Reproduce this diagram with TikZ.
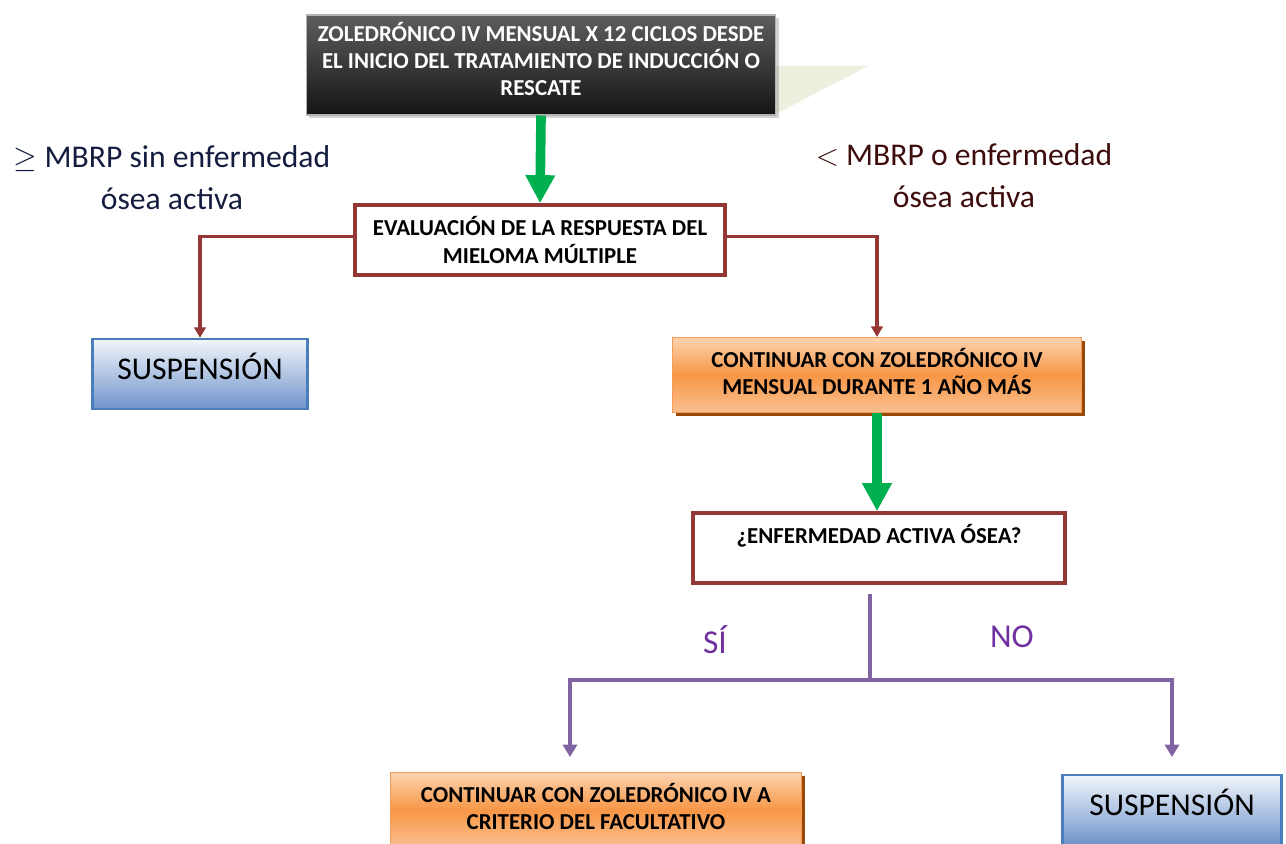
\documentclass[tikz,border=0pt]{standalone}
\usepackage{fontspec}
\setmainfont{Carlito}
\usetikzlibrary{arrows.meta,shadows}

\definecolor{darkred}{HTML}{953735}
\definecolor{arrowgreen}{HTML}{00B050}
\definecolor{violetline}{HTML}{8064A2}
\definecolor{violettext}{HTML}{7030A0}
\definecolor{navytext}{HTML}{141D3F}
\definecolor{maroontext}{HTML}{3D0C0C}
\definecolor{orangetop}{HTML}{FCD3B0}
\definecolor{orangemid}{HTML}{F79646}
\definecolor{orangebot}{HTML}{FAC090}
\definecolor{orangeedge}{HTML}{F59D56}
\definecolor{orangeshadow}{HTML}{984807}
\definecolor{bluetop}{HTML}{F2F6FB}
\definecolor{bluebot}{HTML}{6F93CB}
\definecolor{blueedge}{HTML}{4A7EBB}
\definecolor{darktop}{HTML}{5E5E5E}
\definecolor{darkbot}{HTML}{141414}
\definecolor{lightgreen}{HTML}{EBF1DE}

\begin{document}
\begin{tikzpicture}[
        x=0.02cm, y=-0.02cm,
        every node/.style={
            align=center,
            inner sep=2pt
        },
        boxtext/.style={font=\bfseries\fontsize{13}{15.5}\selectfont},
        darkbox/.style={
            boxtext, text=white, text depth=7pt,
            draw=gray!60, line width=0.6pt,
            top color=darktop, bottom color=darkbot,
            minimum width=9.4cm, minimum height=2cm,
            drop shadow={shadow xshift=1.5pt, shadow yshift=-1.5pt, opacity=0.35}
        },
        whitebox/.style={
            boxtext, fill=white,
            draw=darkred, line width=2pt,
            minimum height=1.4cm,
            drop shadow={shadow xshift=1.2pt, shadow yshift=-1.2pt, opacity=0.25}
        },
        orangebox/.style={
            boxtext, text depth=4pt,
            draw=orangeedge, line width=0.6pt,
            top color=orangetop, bottom color=orangebot, middle color=orangemid,
            minimum width=8.2cm, minimum height=1.5cm,
            drop shadow={shadow xshift=2pt, shadow yshift=-2pt, fill=orangeshadow, opacity=1}
        },
        bluebox/.style={
            font=\fontsize{18}{20}\selectfont, text depth=9pt,
            draw=blueedge, line width=1.3pt,
            top color=bluetop, bottom color=bluebot,
            minimum width=4.3cm, minimum height=1.4cm
        },
        greenarrow/.style={
            draw=arrowgreen, line width=5.5pt,
            -{Triangle[length=16pt,width=16pt]}
        },
        redline/.style={
            draw=darkred, line width=2.2pt,
            -{Triangle[length=6pt,width=6.5pt]}
        },
        violetarrow/.style={
            draw=violetline, line width=2.2pt,
            -{Triangle[length=7pt,width=8pt]}
        },
        branchlabel/.style={font=\fontsize{18}{24}\selectfont},
        answer/.style={font=\fontsize{19}{22}\selectfont, text=violettext}
    ]
        \useasboundingbox (0,0) rectangle (1286,844);
        \clip (0,0) rectangle (1286,844);

        % Start
        \fill[lightgreen] (772,66) -- (868,66) -- (772,116) -- cycle;
        \node[darkbox] (start) at (541,65) {ZOLEDRÓNICO IV MENSUAL X 12 CICLOS DESDE\\EL INICIO DEL TRATAMIENTO DE INDUCCIÓN O\\RESCATE};
        \node[whitebox, minimum width=7.4cm] (eval) at (540,240) {EVALUACIÓN DE LA RESPUESTA DEL\\MIELOMA MÚLTIPLE};

        % Response labels
        \node[branchlabel, text=navytext] (good) at (172,178) {$\geq$ MBRP sin enfermedad\\ósea activa};
        \node[branchlabel, text=maroontext] (poor) at (964,176) {$<$ MBRP o enfermedad\\ósea activa};

        % Outcomes of the evaluation
        \node[bluebox] (stopA) at (200,374) {SUSPENSIÓN};
        \node[orangebox] (goon) at (877,375) {CONTINUAR CON ZOLEDRÓNICO IV\\MENSUAL DURANTE 1 AÑO MÁS};
        \node[whitebox, minimum width=7.44cm] (bone) at (879,548) {¿ENFERMEDAD ACTIVA ÓSEA?\\\mbox{}};

        % Outcomes of the bone question
        \node[orangebox, minimum width=8.24cm] (goonB) at (596,810) {CONTINUAR CON ZOLEDRÓNICO IV A\\CRITERIO DEL FACULTATIVO};
        \node[bluebox, minimum width=4.38cm] (stopB) at (1172,810) {SUSPENSIÓN};
        \node[answer] (yes) at (715,640) {SÍ};
        \node[answer] (no) at (1012,637) {NO};

        % Edges
        \coordinate (fork) at (870,680);
        \coordinate (yesEnd) at (570,757);
        \coordinate (noEnd) at (1172,757);
        \draw[greenarrow] (start.south) -- (eval.north);
        \draw[redline] ([yshift=2pt]eval.west) -| (stopA.north);
        \draw[redline] ([yshift=2pt]eval.east) -| (goon.north);
        \draw[greenarrow] (goon.south) -- (goon.south |- bone.north);
        \draw[violetline, line width=2.2pt] (fork |- bone.south) ++(0,9) -- (fork);
        \draw[violetarrow] (fork) -| (yesEnd);
        \draw[violetarrow] (fork) -| (noEnd);
    \end{tikzpicture}
\end{document}
